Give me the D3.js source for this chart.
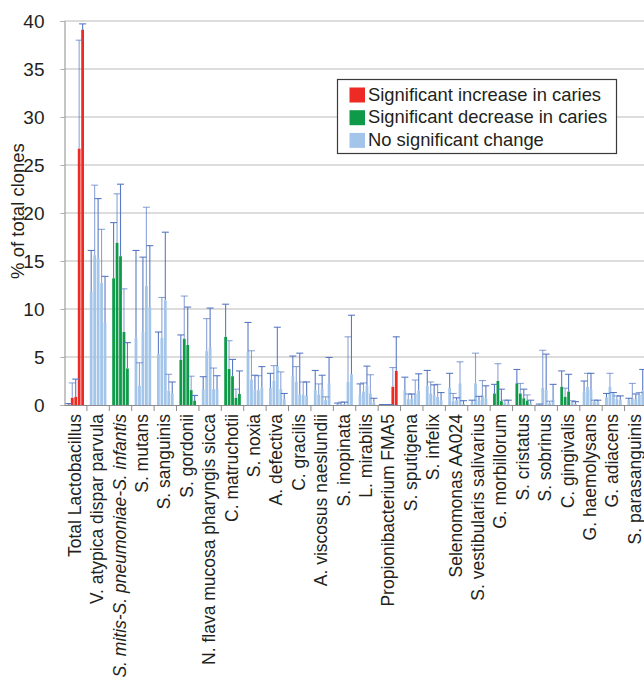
<!DOCTYPE html>
<html>
<head>
<meta charset="utf-8">
<script src="https://cdn.jsdelivr.net/npm/d3@7"></script>
<style>
  html, body { margin: 0; padding: 0; background: #fff; }
  svg { display: block; font-family: "Liberation Sans", Arial, Helvetica, sans-serif; }
</style>
</head>
<body>
<svg id="chart" width="644" height="679"></svg>
<script>
// Taxa shown along the x axis
const categories = [
  "Total Lactobacillus", "V. atypica dispar parvula", "S. mitis-S. pneumoniae-S. infantis",
  "S. mutans", "S. sanguinis", "S. gordonii", "N. flava mucosa pharyngis sicca",
  "C. matruchotii", "S. noxia", "A. defectiva", "C. gracilis", "A. viscosus naeslundii",
  "S. inopinata", "L. mirabilis", "Propionibacterium FMA5", "S. sputigena", "S. infelix",
  "Selenomonas AA024", "S. vestibularis salivarius", "G. morbillorum", "S. cristatus",
  "S. sobrinus", "C. gingivalis", "G. haemolysans", "G. adiacens", "S. parasanguinis"
];
const italicCategories = ["S. mitis-S. pneumoniae-S. infantis"];

// Mean % of total clones, five groups per taxon
const meanValues = [
  [0.05, 0.75, 0.85, 26.7, 39.1],
  [11.8, 15.6, 15.3, 12.7, 8.6],
  [13.2, 16.9, 15.5, 7.6, 3.8],
  [7.0, 2.0, 7.6, 12.4, 10.2],
  [5.3, 7.0, 10.9, 1.5, 1.2],
  [4.7, 6.9, 6.25, 1.55, 0.45],
  [1.65, 5.6, 6.0, 1.65, 1.65],
  [7.1, 3.75, 3.0, 0.75, 1.15],
  [5.55, 2.65, 1.55, 1.55, 1.8],
  [1.8, 2.5, 4.05, 1.65, 0.6],
  [3.0, 2.4, 1.1, 1.05, 0.95],
  [1.55, 1.1, 1.7, 0.5, 2.25],
  [0.1, 0.1, 0.1, 2.4, 3.2],
  [1.1, 1.4, 2.0, 1.2, 0.25],
  [0.02, 0.02, 0.02, 1.9, 3.55],
  [1.55, 0.6, 0.6, 1.2, 1.5],
  [2.0, 1.2, 1.0, 0.85, 0.5],
  [1.8, 0.4, 0.5, 2.25, 0.1],
  [0.2, 2.25, 0.5, 1.0, 0.7],
  [1.2, 2.5, 0.4, 0.25, 0.15],
  [2.25, 1.2, 0.7, 0.45, 0.15],
  [0.05, 1.8, 1.55, 0.2, 0.6],
  [1.9, 0.85, 1.4, 0.3, 0.1],
  [1.4, 1.9, 1.6, 0.35, 0.3],
  [0.8, 1.9, 1.2, 0.6, 0.55],
  [0.5, 0.7, 0.6, 1.05, 1.5]
];

// Upper end of each error bar (mean + SD)
const errorUpper = [
  [0.15, 2.3, 2.7, 38.0, 39.7],
  [16.1, 22.9, 21.5, 18.3, 13.4],
  [19.0, 22.0, 23.0, 12.1, 6.5],
  [16.1, 4.4, 15.4, 20.6, 16.6],
  [7.6, 11.2, 18.0, 3.2, 2.4],
  [7.3, 11.35, 10.2, 3.0, 1.0],
  [2.95, 9.0, 10.1, 3.85, 3.05],
  [10.5, 6.7, 4.75, 1.65, 3.55],
  [8.6, 5.65, 3.1, 3.05, 4.0],
  [3.3, 4.1, 8.1, 3.45, 1.2],
  [5.1, 4.0, 5.4, 2.4, 2.4],
  [3.6, 2.2, 3.1, 0.85, 4.95],
  [0.2, 0.3, 0.3, 7.1, 9.35],
  [2.2, 2.3, 4.05, 3.15, 0.7],
  [0.05, 0.05, 0.05, 3.9, 7.1],
  [2.9, 1.15, 1.15, 2.6, 3.25],
  [3.6, 2.4, 2.1, 2.15, 1.3],
  [3.3, 1.2, 0.75, 4.5, 0.45],
  [0.5, 5.4, 0.9, 2.55, 2.0],
  [2.15, 4.3, 1.65, 0.5, 0.5],
  [3.7, 2.25, 1.65, 1.05, 0.5],
  [0.1, 5.7, 5.3, 0.4, 2.15],
  [3.55, 1.75, 3.2, 0.45, 0.35],
  [2.5, 3.3, 3.3, 0.5, 0.5],
  [1.2, 3.3, 1.3, 0.95, 0.95],
  [0.7, 2.25, 1.15, 1.3, 3.7]
];

// Change in caries per bar: I = increase, D = decrease, N = no significant change
const changeCodes = [
  "IIIII", "NNNNN", "DDDDD", "NNNNN", "NNNNN", "DDDDD", "NNNNN", "DDDDD", "NNNNN",
  "NNNNN", "NNNNN", "NNNNN", "NNNNN", "NNNNN", "NNNII", "NNNNN", "NNNNN", "NNNNN",
  "NNNNN", "DDDNN", "DDDDN", "NNNNN", "DDDNN", "NNNNN", "NNNNN", "NNNNN"
];

const legendLabels = ["Significant increase in caries", "Significant decrease in caries", "No significant change"];
const legendCodes = ["I", "D", "N"];
const yTicks = [0, 5, 10, 15, 20, 25, 30, 35, 40];
const yTitle = "% of total clones";

const colors = { I: "#ee2a24", D: "#0f9a4a", N: "#a3c5ea" };
const errorColor = "#5273c2";

const svg = d3.select("#chart");
const plot = { left: 64.5, right: 647, top: 21, bottom: 405 };

const x = d3.scaleBand().domain(categories).range([plot.left, plot.right]).paddingInner(0).paddingOuter(0);
const inner = d3.scaleBand().domain(d3.range(5)).range([-8.3, 8.3]).paddingInner(0.2).paddingOuter(0);
const y = d3.scaleLinear().domain([0, 40]).range([plot.bottom, plot.top]);

// Horizontal gridlines
svg.append("g")
  .selectAll("line")
  .data(yTicks.filter(t => t > 0))
  .join("line")
  .attr("x1", plot.left).attr("x2", 644)
  .attr("y1", d => y(d)).attr("y2", d => y(d))
  .attr("stroke", "#dcdcdc").attr("stroke-width", 2);

// Bars
const barData = [];
categories.forEach((c, ci) => {
  meanValues[ci].forEach((v, k) => {
    barData.push({ cat: c, k, value: v, upper: errorUpper[ci][k], code: changeCodes[ci][k] });
  });
});

const bars = svg.append("g");
bars.selectAll("rect")
  .data(barData)
  .join("rect")
  .attr("x", d => x(d.cat) + x.bandwidth() / 2 + inner(d.k))
  .attr("width", inner.bandwidth())
  .attr("y", d => y(d.value))
  .attr("height", d => y(0) - y(d.value))
  .attr("fill", d => colors[d.code]);

// Error bars (upper half only)
const errs = svg.append("g").attr("stroke", errorColor).attr("stroke-width", 1.1).attr("fill", "none");
barData.forEach(d => {
  const cx = x(d.cat) + x.bandwidth() / 2 + inner(d.k) + inner.bandwidth() / 2;
  errs.append("line").attr("x1", cx).attr("x2", cx).attr("y1", y(d.value)).attr("y2", y(d.upper))
    .attr("stroke-opacity", d.k % 2 ? 0.65 : 0.95);
  errs.append("line").attr("x1", cx - 3.5).attr("x2", cx + 3.5).attr("y1", y(d.upper)).attr("y2", y(d.upper))
    .attr("stroke-opacity", d.k % 2 ? 0.65 : 0.95);
});

// Y axis
const yAxis = d3.axisLeft(y).tickValues(yTicks).tickSize(4).tickPadding(16);
const yg = svg.append("g").attr("transform", `translate(${plot.left},0)`).call(yAxis);
yg.select(".domain").attr("stroke", "#8c8c8c");
yg.selectAll(".tick line").attr("stroke", "#b0b0b0");
yg.selectAll(".tick text").attr("font-size", 19).attr("fill", "#231f20")
  .attr("font-family", "Liberation Sans, Arial, sans-serif");

// X axis
const xAxis = d3.axisBottom(x).tickSize(0).tickFormat("");
const xg = svg.append("g").attr("transform", `translate(0,${plot.bottom})`).call(xAxis);
xg.select(".domain").attr("stroke", "#8c8c8c");
xg.selectAll(".tick").remove();
xg.selectAll(".sep")
  .data(categories.slice(1))
  .join("line")
  .attr("x1", d => x(d)).attr("x2", d => x(d))
  .attr("y1", 0).attr("y2", 6)
  .attr("stroke", "#8c8c8c");

// Category labels
svg.append("g")
  .selectAll("text")
  .data(categories)
  .join("text")
  .attr("transform", d => `translate(${x(d) + x.bandwidth() / 2 + 5},414) rotate(-90)`)
  .attr("text-anchor", "end")
  .attr("font-size", 17.5)
  .attr("fill", "#231f20")
  .attr("font-style", d => italicCategories.includes(d) ? "italic" : "normal")
  .text(d => d);

// Y title
svg.append("text")
  .attr("transform", "translate(24,211) rotate(-90)")
  .attr("text-anchor", "middle")
  .attr("font-size", 18.5)
  .attr("fill", "#231f20")
  .text(yTitle);

// Legend
const lg = svg.append("g").attr("transform", "translate(337.5,79.5)");
lg.append("rect").attr("width", 279).attr("height", 74).attr("fill", "#fff")
  .attr("stroke", "#3a3a3a").attr("stroke-width", 1.2);
legendCodes.forEach((code, i) => {
  lg.append("rect").attr("x", 12).attr("y", 8 + i * 22.7).attr("width", 15.5).attr("height", 15)
    .attr("fill", colors[code]);
  lg.append("text").attr("x", 30.5).attr("y", 21 + i * 22.7).attr("font-size", 18.4)
    .attr("fill", "#231f20").text(legendLabels[i]);
});
</script>
</body>
</html>
